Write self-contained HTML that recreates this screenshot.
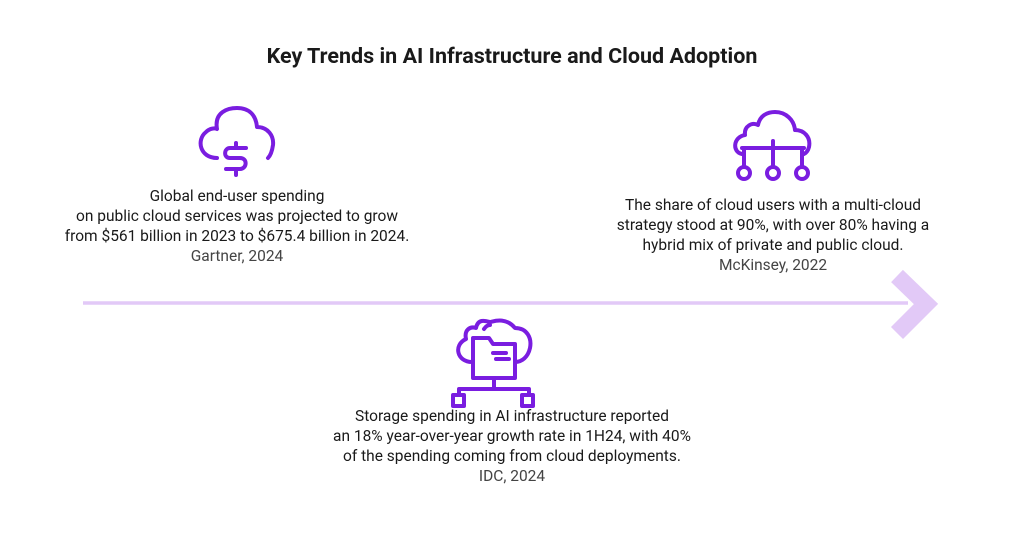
<!DOCTYPE html>
<html><head><meta charset="utf-8"><style>
body{margin:0;width:1024px;height:538px;background:#fff;position:relative;overflow:hidden;font-family:"Roboto","Liberation Sans",sans-serif;color:#1a1a1a}
.t{position:absolute;text-align:center;font-size:15.5px;line-height:20px;white-space:nowrap;transform:translateX(-50%)}
.src{color:#444}
svg{position:absolute;left:0;top:0}
</style></head><body>
<div style="position:absolute;left:0;width:1024px;top:44px;text-align:center;font-size:21.5px;font-weight:bold">Key Trends in AI Infrastructure and Cloud Adoption</div>
<svg width="1024" height="538">
<line x1="83" y1="303" x2="908" y2="303" stroke="#e2c9f7" stroke-width="3.5"/>
<polyline points="897,276 926,304 897,333" fill="none" stroke="#e2c9f7" stroke-width="17"/>
<g fill="none" stroke="#7a1de0" stroke-width="4" stroke-linecap="round" stroke-linejoin="round">
<path d="M217,158 C200,158 196,140 206,132 C210,128 215,128 217,129 C214,112 228,108 237,108 C250,108 256,116 257,127 C268,127 274,136 273,145 C272,152 270,156 268,158"/>
<path d="M246,148 L230,148 C224,148 223,158 230,158 L240,158 C248,158 247,169 240,169 L226,169 M236,143 L236,148 M236,169 L236,175"/>
</g>
<g fill="none" stroke="#7a1de0" stroke-width="4" stroke-linecap="round" stroke-linejoin="round">
<path d="M742,154 C732,152 733,137 745,135 C744,126 752,122 758,125 C760,115 768,112 775,112 C786,112 794,120 795,130 C804,130 811,137 809,147 C808,151 806,153 804,154"/>
<path d="M742,148 L804,148 M773,141 L773,166 M744,148 L744,166 M802,148 L802,166"/>
<circle cx="744" cy="173" r="6"/><circle cx="773" cy="173" r="6"/><circle cx="802" cy="173" r="6"/>
</g>
<g fill="none" stroke="#7a1de0" stroke-width="4" stroke-linecap="round" stroke-linejoin="round">
<path d="M472,362 C457,362 453,345 466,339 C464,330 470,326 476,328 C478,318 486,321 490,322 C492,322 505,316 515,328 C527,328 532,338 530,348 C528,357 522,362 515,362"/>
<path d="M484,329 C486,326 488,325 490,325"/>
<path d="M473,338 L489,338 L493,344 L515,344 L515,378 L473,378 Z"/>
<path d="M493,353 L506,353 M496,359 L509,359"/>
<path d="M494,378 L494,389 M459,389 L529,389 M459,389 L459,395 M529,389 L529,395"/>
<rect x="453" y="395" width="11" height="11"/><rect x="522" y="395" width="11" height="11"/>
</g>
</svg>
<div class="t" style="left:237px;top:186px">Global end-user spending<br>on public cloud services was projected to grow<br>from $561 billion in 2023 to $675.4 billion in 2024.<br><span class="src">Gartner, 2024</span></div>
<div class="t" style="left:773px;top:195px">The share of cloud users with a multi-cloud<br>strategy stood at 90%, with over 80% having a<br>hybrid mix of private and public cloud.<br><span class="src">McKinsey, 2022</span></div>
<div class="t" style="left:512px;top:406px">Storage spending in AI infrastructure reported<br>an 18% year-over-year growth rate in 1H24, with 40%<br>of the spending coming from cloud deployments.<br><span class="src">IDC, 2024</span></div>
</body></html>
